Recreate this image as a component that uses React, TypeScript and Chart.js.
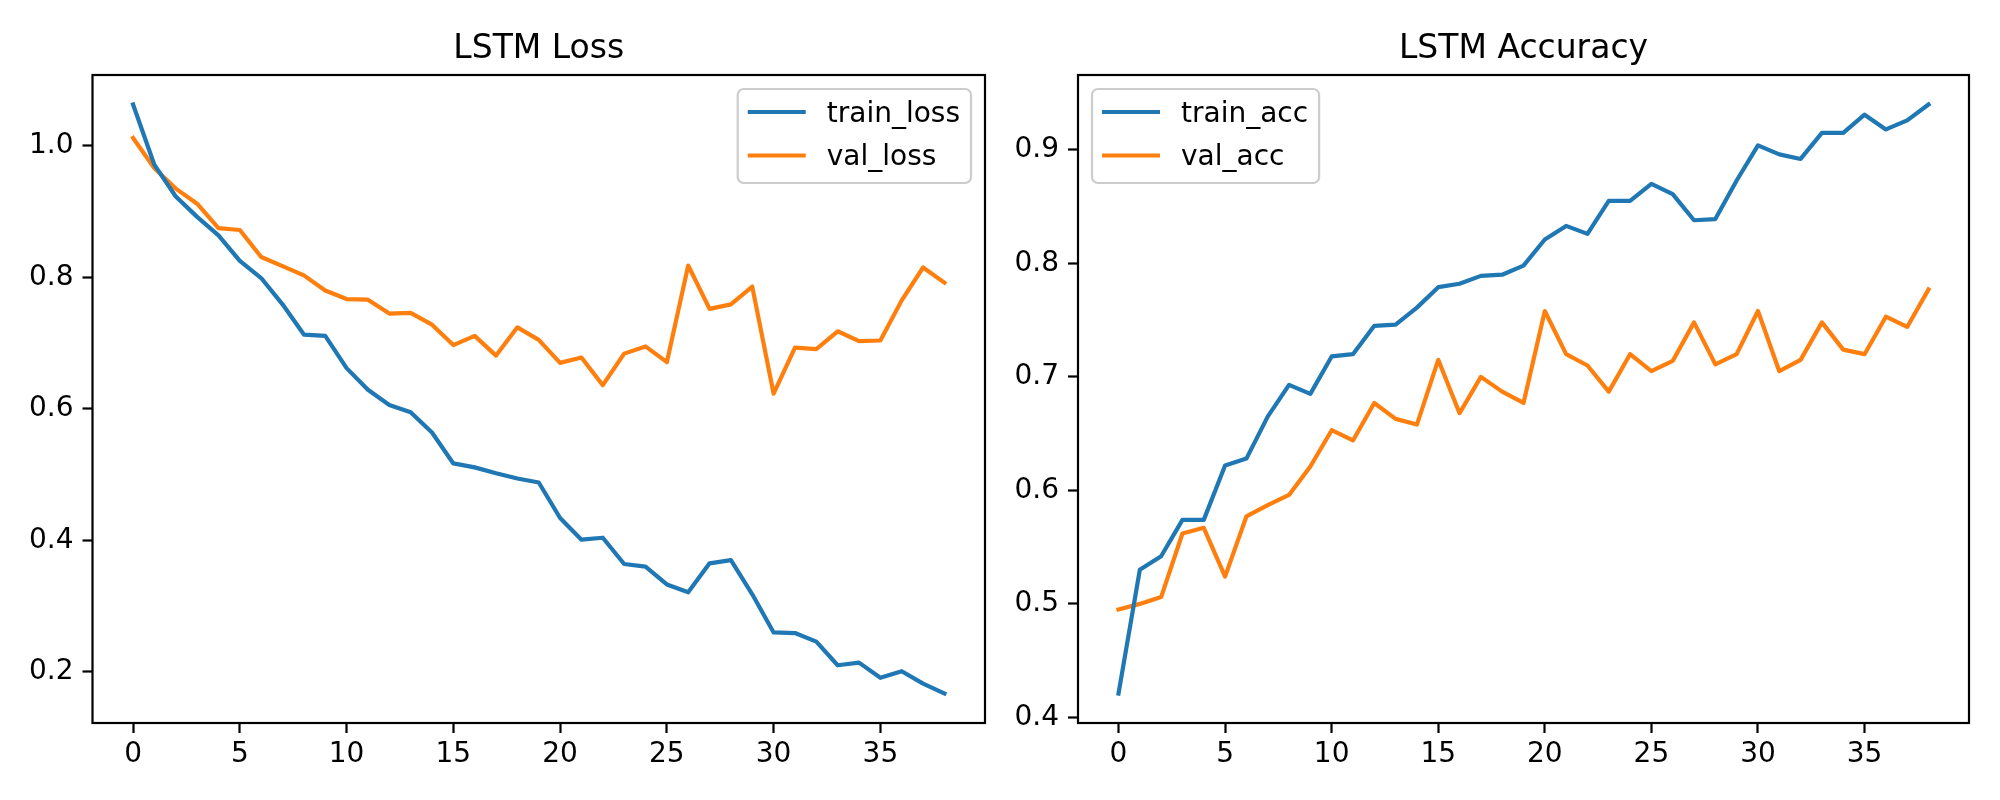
import React, { useEffect, useRef } from "react";
import { Chart, registerables } from "chart.js";

Chart.register(...registerables);

const epochs = [0, 1, 2, 3, 4, 5, 6, 7, 8, 9, 10, 11, 12, 13, 14, 15, 16, 17, 18, 19, 20, 21, 22, 23, 24, 25, 26, 27, 28, 29, 30, 31, 32, 33, 34, 35, 36, 37, 38];

const trainLoss = [1.063, 0.971, 0.923, 0.892, 0.864, 0.825, 0.799, 0.759, 0.713, 0.711, 0.662, 0.629, 0.606, 0.595, 0.564, 0.517, 0.511, 0.502, 0.494, 0.488, 0.434, 0.401, 0.404, 0.364, 0.36, 0.333, 0.321, 0.365, 0.37, 0.318, 0.26, 0.259, 0.246, 0.21, 0.214, 0.191, 0.201, 0.182, 0.167];
const valLoss = [1.012, 0.966, 0.935, 0.912, 0.875, 0.872, 0.831, 0.817, 0.803, 0.78, 0.767, 0.766, 0.745, 0.746, 0.728, 0.697, 0.711, 0.681, 0.724, 0.705, 0.67, 0.678, 0.636, 0.684, 0.695, 0.671, 0.818, 0.752, 0.759, 0.786, 0.623, 0.693, 0.691, 0.718, 0.703, 0.704, 0.765, 0.815, 0.792];

const trainAcc = [0.421, 0.53, 0.542, 0.574, 0.574, 0.622, 0.628, 0.665, 0.693, 0.685, 0.718, 0.72, 0.745, 0.746, 0.761, 0.779, 0.782, 0.789, 0.79, 0.798, 0.821, 0.833, 0.826, 0.855, 0.855, 0.87, 0.861, 0.838, 0.839, 0.873, 0.904, 0.896, 0.892, 0.915, 0.915, 0.931, 0.918, 0.926, 0.94];
const valAcc = [0.495, 0.5, 0.506, 0.562, 0.567, 0.524, 0.577, 0.587, 0.596, 0.621, 0.653, 0.644, 0.677, 0.663, 0.658, 0.715, 0.668, 0.7, 0.687, 0.677, 0.758, 0.72, 0.71, 0.687, 0.72, 0.705, 0.714, 0.748, 0.711, 0.72, 0.758, 0.705, 0.715, 0.748, 0.724, 0.72, 0.753, 0.744, 0.777];

const xTicks = [0, 5, 10, 15, 20, 25, 30, 35];
const lossTicks = [0.2, 0.4, 0.6, 0.8, 1.0];
const accTicks = [0.4, 0.5, 0.6, 0.7, 0.8, 0.9];

const BLUE = "#1f77b4";
const ORANGE = "#ff7f0e";
const FONT = "'DejaVu Sans', sans-serif";

function bounds(arrs: number[][]) {
  const all = arrs.flat();
  const mn = Math.min(...all);
  const mx = Math.max(...all);
  const pad = (mx - mn) * 0.05;
  return { min: mn - pad, max: mx + pad };
}

const decorPlugin = {
  id: "mplDecor",
  afterDatasetsDraw(chart: any, _args: any, opts: any) {
    const { ctx, chartArea: a } = chart;
    ctx.save();
    ctx.strokeStyle = "#000";
    ctx.lineWidth = 2.2;
    ctx.strokeRect(a.left, a.top, a.right - a.left, a.bottom - a.top);

    ctx.fillStyle = "#000";
    ctx.font = `33px ${FONT}`;
    ctx.textAlign = "center";
    ctx.textBaseline = "alphabetic";
    ctx.fillText(opts.title, (a.left + a.right) / 2, a.top - 16.7);

    ctx.font = `28px ${FONT}`;
    const ds = chart.data.datasets;
    const tw = Math.max(...ds.map((d: any) => ctx.measureText(d.label).width));
    const w = 89 + tw + 11;
    const h = 94;
    const x = opts.legend === "right" ? a.right - 14 - w : a.left + 14;
    const y = a.top + 14;
    ctx.beginPath();
    ctx.roundRect(x, y, w, h, 6);
    ctx.fillStyle = "rgba(255,255,255,0.8)";
    ctx.fill();
    ctx.strokeStyle = "#cccccc";
    ctx.lineWidth = 2.2;
    ctx.stroke();
    ds.forEach((d: any, i: number) => {
      const ly = y + 23 + i * 43.5;
      ctx.beginPath();
      ctx.strokeStyle = d.borderColor;
      ctx.lineWidth = 4.2;
      ctx.lineCap = "butt";
      ctx.moveTo(x + 10, ly);
      ctx.lineTo(x + 68, ly);
      ctx.stroke();
      ctx.fillStyle = "#000";
      ctx.textAlign = "left";
      ctx.textBaseline = "alphabetic";
      ctx.fillText(d.label, x + 89, ly + 9.5);
    });
    ctx.restore();
  },
};

function makeConfig(
  title: string,
  legend: string,
  s1: number[],
  s2: number[],
  l1: string,
  l2: string,
  yTicks: number[],
  yWidth: number,
  padRight: number
): any {
  const yb = bounds([s1, s2]);
  const xb = { min: epochs[0] - (epochs[epochs.length - 1] - epochs[0]) * 0.05, max: epochs[epochs.length - 1] + (epochs[epochs.length - 1] - epochs[0]) * 0.05 };
  const line = (label: string, vals: number[], color: string) => ({
    label,
    data: epochs.map((e, i) => ({ x: e, y: vals[i] })),
    borderColor: color,
    backgroundColor: color,
    borderWidth: 4.2,
    pointRadius: 0,
    tension: 0,
    fill: false,
    borderJoinStyle: "round",
    borderCapStyle: "square",
  });
  const tickFont = { family: FONT, size: 28 };
  return {
    type: "line",
    data: {
      datasets: [line(l1, s1, BLUE), line(l2, s2, ORANGE)],
    },
    options: {
      animation: false,
      responsive: false,
      devicePixelRatio: 1,
      layout: { padding: { top: 75, right: padRight, bottom: 0, left: 0 } },
      plugins: {
        legend: { display: false },
        tooltip: { enabled: false },
        title: { display: false },
        mplDecor: { title, legend },
      },
      scales: {
        x: {
          type: "linear",
          min: xb.min,
          max: xb.max,
          afterBuildTicks: (scale: any) => {
            scale.ticks = xTicks.map((v) => ({ value: v }));
          },
          afterFit: (scale: any) => {
            scale.height = 77;
          },
          ticks: {
            autoSkip: false,
            maxRotation: 0,
            color: "#000",
            font: tickFont,
            padding: 5,
            callback: (v: any) => String(v),
          },
          grid: {
            display: true,
            drawOnChartArea: false,
            drawTicks: true,
            tickLength: 10,
            tickWidth: 2.2,
            tickColor: "#000",
          },
          border: { display: false },
        },
        y: {
          type: "linear",
          min: yb.min,
          max: yb.max,
          afterBuildTicks: (scale: any) => {
            scale.ticks = yTicks.map((v) => ({ value: v }));
          },
          afterFit: (scale: any) => {
            scale.width = yWidth;
          },
          ticks: {
            autoSkip: false,
            color: "#000",
            font: tickFont,
            padding: 9,
            callback: (v: any) => Number(v).toFixed(1),
          },
          grid: {
            display: true,
            drawOnChartArea: false,
            drawTicks: true,
            tickLength: 10,
            tickWidth: 2.2,
            tickColor: "#000",
          },
          border: { display: false },
        },
      },
    },
    plugins: [decorPlugin],
  };
}

function ChartCanvas({ config, left }: { config: any; left: number }) {
  const ref = useRef<HTMLCanvasElement | null>(null);
  useEffect(() => {
    if (!ref.current) return;
    const chart = new Chart(ref.current, config);
    return () => chart.destroy();
  }, [config]);
  return (
    <canvas
      ref={ref}
      width={1000}
      height={800}
      style={{ position: "absolute", left, top: 0, width: 1000, height: 800 }}
    />
  );
}

const lossConfig = makeConfig("LSTM Loss", "right", trainLoss, valLoss, "train_loss", "val_loss", lossTicks, 92.5, 15);
const accConfig = makeConfig("LSTM Accuracy", "left", trainAcc, valAcc, "train_acc", "val_acc", accTicks, 78, 31);

export default function App() {
  return (
    <div style={{ position: "absolute", left: 0, top: 0, width: 2000, height: 800, background: "#fff" }}>
      <ChartCanvas config={lossConfig} left={0} />
      <ChartCanvas config={accConfig} left={1000} />
    </div>
  );
}
